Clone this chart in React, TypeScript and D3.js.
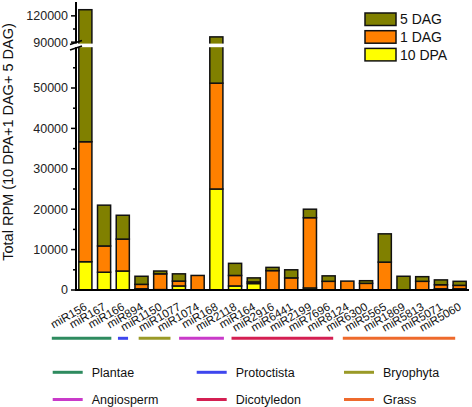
import React from "react";
import * as d3 from "d3";

const categories = ["miR156","miR167","miR166","miR894","miR1150","miR1077","miR1074","miR168","miR2118","miR164","miR2916","miR6441","miR2199","miR7696","miR8124","miR6300","miR5565","miR1869","miR5813","miR5071","miR5060"];
const dpa10 = [7000,4400,4700,300,100,1000,0,25000,1000,1600,0,0,500,0,0,0,0,0,0,300,300];
const dag1 = [29700,6500,7900,1100,3900,1200,3600,26200,2600,400,4800,3000,17400,2150,2200,1650,6900,0,2150,1000,850];
const dag5 = [90300,10100,5900,2000,700,1800,0,44800,3000,1000,800,2000,2100,1350,0,650,7000,3400,1150,1200,1000];

const seriesKeys = ["10 DPA","1 DAG","5 DAG"];
const seriesColors = ["#ffff00","#ff8000","#808000"];
const legendOrder = ["5 DAG","1 DAG","10 DPA"];

const lowerTicks = [0,10000,20000,30000,40000,50000];
const lowerMinor = [5000,15000,25000,35000,45000,55000];
const upperTicks = [90000,120000];
const upperMinor = [105000];

const groupNames = ["Plantae","Protoctista","Bryophyta","Angiosperm","Dicotyledon","Grass"];
const groupFirst = [0,3,4,6,8,14];
const groupLast = [2,3,5,7,13,20];
const groupColors = ["#2e8b5f","#3e46ee","#9a9a28","#c93ac9","#d41f52","#ee6a2c"];
// pixel tweaks for the hand-drawn group lines (start, end)
const groupAdjust = [[-27,-18],[-17,-20],[-15,-15],[-12,1],[3,-2],[2,-11]];

const W = 472, H = 407;
const font = "Arial, 'Liberation Sans', sans-serif";

export default function App() {
  const x = d3.scaleBand<string>().domain(categories).range([76, 469]).paddingInner(0.3).paddingOuter(0.15);
  const yLow = d3.scaleLinear().domain([0, 60000]).range([290, 47.6]);
  const yUp = d3.scaleLinear().domain([88000, 135000]).range([43.9, 2.7]);
  const y = (v: number) => (v <= 60000 ? yLow(v) : v >= 88000 ? yUp(v) : 45.7);

  const rows = categories.map((c, i) => ({ cat: c, "10 DPA": dpa10[i], "1 DAG": dag1[i], "5 DAG": dag5[i] }));
  const stacked = d3.stack<any>().keys(seriesKeys)(rows);
  const bw = x.bandwidth();

  return (
    <svg width={W} height={H} style={{ position: "absolute", left: 0, top: 0 }} fontFamily={font}>
      <rect width={W} height={H} fill="#fff" />
      {stacked.map((s, si) => (
        <g key={s.key}>
          {s.map((d, i) => {
            if (d[1] - d[0] <= 0) return null;
            const yt = y(d[1]);
            const yb = y(d[0]);
            return (
              <rect key={i} x={x(categories[i])} y={yt} width={bw} height={yb - yt}
                fill={seriesColors[si]} stroke="#111" strokeWidth={1.5} />
            );
          })}
        </g>
      ))}
      {/* axis break gap */}
      <rect x={66} y={43.6} width={404} height={3.6} fill="#fff" />
      {/* y axis */}
      <line x1={76} x2={76} y1={291} y2={47.2} stroke="#000" strokeWidth={2} />
      <line x1={76} x2={76} y1={43.6} y2={2} stroke="#000" strokeWidth={2} />
      <line x1={70} x2={82} y1={44.5} y2={40.5} stroke="#000" strokeWidth={1.5} />
      <line x1={70} x2={82} y1={50} y2={46} stroke="#000" strokeWidth={1.5} />
      {lowerTicks.map(t => (
        <g key={"lt" + t}>
          <line x1={71} x2={76} y1={yLow(t)} y2={yLow(t)} stroke="#000" strokeWidth={1.5} />
          <text x={68} y={yLow(t)} dy="0.35em" textAnchor="end" fontSize={12.5} fill="#222">{t}</text>
        </g>
      ))}
      {lowerMinor.map(t => (
        <line key={"lm" + t} x1={73} x2={76} y1={yLow(t)} y2={yLow(t)} stroke="#000" strokeWidth={1.5} />
      ))}
      {upperTicks.map(t => (
        <g key={"ut" + t}>
          <line x1={71} x2={76} y1={yUp(t)} y2={yUp(t)} stroke="#000" strokeWidth={1.5} />
          <text x={68} y={yUp(t)} dy="0.35em" textAnchor="end" fontSize={12.5} fill="#222">{t}</text>
        </g>
      ))}
      {upperMinor.map(t => (
        <line key={"um" + t} x1={73} x2={76} y1={yUp(t)} y2={yUp(t)} stroke="#000" strokeWidth={1.5} />
      ))}
      {/* x axis */}
      <line x1={75} x2={469} y1={290} y2={290} stroke="#000" strokeWidth={2.2} />
      {categories.map(c => {
        const cx = (x(c) as number) + bw / 2 + 2.5;
        return (
          <text key={c} transform={`translate(${cx},309) rotate(-30)`} textAnchor="end" fontSize={11.5} fill="#111">{c}</text>
        );
      })}
      {/* y title */}
      <text transform="translate(13,142) rotate(-90)" textAnchor="middle" fontSize={14.5} fill="#111">Total RPM (10 DPA+1 DAG+ 5 DAG)</text>
      {/* legend */}
      {legendOrder.map((k, i) => {
        const ci = seriesKeys.indexOf(k);
        return (
          <g key={k} transform={`translate(365,${13 + i * 17.7})`}>
            <rect x={0} y={0} width={31} height={12.5} fill={seriesColors[ci]} stroke="#111" strokeWidth={1.5} />
            <text x={35} y={6.5} dy="0.35em" fontSize={14} fill="#111">{k}</text>
          </g>
        );
      })}
      {/* group lines */}
      {groupNames.map((g, i) => {
        const x1 = (x(categories[groupFirst[i]]) as number) + groupAdjust[i][0];
        const x2 = (x(categories[groupLast[i]]) as number) + bw + groupAdjust[i][1];
        return <line key={g} x1={x1} x2={x2} y1={338.3} y2={338.3} stroke={groupColors[i]} strokeWidth={3} />;
      })}
      {/* group legend */}
      {groupNames.map((g, i) => {
        const col = i % 3;
        const row = Math.floor(i / 3);
        const lx = [52.7, 196.7, 344][col];
        const ly = [372.3, 399.5][row];
        return (
          <g key={"gl" + g}>
            <line x1={lx} x2={lx + 30} y1={ly} y2={ly} stroke={groupColors[i]} strokeWidth={3} />
            <text x={lx + 39} y={ly} dy="0.35em" fontSize={12.5} fill="#111">{g}</text>
          </g>
        );
      })}
    </svg>
  );
}
